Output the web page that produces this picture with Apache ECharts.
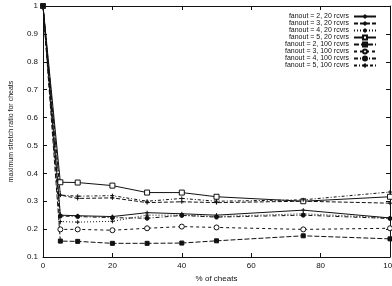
<!DOCTYPE html>
<html>
<head>
<meta charset="utf-8">
<script src="https://cdn.jsdelivr.net/npm/echarts@6/dist/echarts.min.js"></script>
<style>
  html, body { margin: 0; padding: 0; background: #fff; }
  #main { width: 392px; height: 286px; }
</style>
</head>
<body>
<div id="main"></div>
<script>
// % of cheats
const cheats = [0, 5, 10, 20, 30, 40, 50, 75, 100];

const names = [
  'fanout = 2, 20 rcvrs',
  'fanout = 3, 20 rcvrs',
  'fanout = 4, 20 rcvrs',
  'fanout = 5, 20 rcvrs',
  'fanout = 2, 100 rcvrs',
  'fanout = 3, 100 rcvrs',
  'fanout = 4, 100 rcvrs',
  'fanout = 5, 100 rcvrs'
];

const f2r20 = [1, 0.250, 0.248, 0.245, 0.259, 0.255, 0.250, 0.268, 0.240];
const f3r20 = [1, 0.322, 0.310, 0.312, 0.295, 0.298, 0.295, 0.300, 0.293];
const f4r20 = [1, 0.227, 0.225, 0.228, 0.250, 0.250, 0.245, 0.255, 0.240];
const f5r20 = [1, 0.368, 0.367, 0.356, 0.331, 0.331, 0.316, 0.300, 0.316];
const f2r100 = [1, 0.157, 0.156, 0.149, 0.149, 0.150, 0.158, 0.176, 0.165];
const f3r100 = [1, 0.199, 0.199, 0.196, 0.203, 0.209, 0.206, 0.199, 0.203];
const f4r100 = [1, 0.247, 0.245, 0.241, 0.239, 0.249, 0.243, 0.250, 0.238];
const f5r100 = [1, 0.322, 0.318, 0.320, 0.300, 0.310, 0.300, 0.305, 0.333];

const values = [f2r20, f3r20, f4r20, f5r20, f2r100, f3r100, f4r100, f5r100];

const ink = '#111';
const plus = 'path://M0,5L10,5M5,0L5,10';

// line dash, symbol, symbol size, hollow?
const looks = [
  { dash: 'solid', sym: plus, size: 4, hollow: true },
  { dash: [4, 2], sym: plus, size: 4, hollow: true },
  { dash: [1, 2], sym: plus, size: 4, hollow: true },
  { dash: 'solid', sym: 'rect', size: 5, hollow: true },
  { dash: [5, 2], sym: 'rect', size: 4, hollow: false },
  { dash: [3, 3], sym: 'circle', size: 5, hollow: true },
  { dash: [4, 2, 1, 2], sym: 'circle', size: 4, hollow: false },
  { dash: [3, 2, 1, 2], sym: plus, size: 4, hollow: true }
];

const font = 'Liberation Sans';

const series = names.map(function (name, i) {
  const lk = looks[i];
  return {
    name: name,
    type: 'line',
    data: cheats.map(function (x, j) { return [x, values[i][j]]; }),
    symbol: lk.sym,
    symbolSize: lk.size,
    showSymbol: true,
    animation: false,
    lineStyle: { color: ink, width: 1, type: lk.dash },
    itemStyle: {
      color: lk.hollow ? '#fff' : ink,
      borderColor: ink,
      borderWidth: 1
    }
  };
});

const tickStyle = { show: true, inside: true, length: 4, lineStyle: { color: ink, width: 1 } };
const lineAxis = { show: true, onZero: false, lineStyle: { color: ink, width: 1 } };

const chart = echarts.init(document.getElementById('main'), null, { renderer: 'canvas' });

chart.setOption({
  backgroundColor: '#fff',
  animation: false,
  grid: { left: 43, right: 2, top: 6, bottom: 29, outerBoundsMode: 'none', containLabel: false },
  legend: {
    orient: 'vertical',
    right: 10,
    top: 8,
    align: 'right',
    itemWidth: 22,
    itemHeight: 5,
    itemGap: 0,
    selectedMode: false,
    textStyle: { fontFamily: font, fontSize: 7, lineHeight: 6.7, color: ink },
    data: names
  },
  xAxis: [
    {
      type: 'value',
      min: 0, max: 100, interval: 20,
      name: '% of cheats',
      nameLocation: 'middle',
      nameGap: 15,
      nameTextStyle: { fontFamily: font, fontSize: 8, color: ink },
      axisLine: lineAxis,
      axisTick: tickStyle,
      splitLine: { show: false },
      axisLabel: { fontFamily: font, fontSize: 8, color: ink, margin: 5 }
    },
    {
      type: 'value',
      position: 'top',
      min: 0, max: 100, interval: 20,
      axisLine: lineAxis,
      axisTick: tickStyle,
      splitLine: { show: false },
      axisLabel: { show: false }
    }
  ],
  yAxis: [
    {
      type: 'value',
      min: 0.1, max: 1, interval: 0.1,
      name: 'maximum stretch ratio for cheats',
      nameLocation: 'middle',
      nameGap: 28,
      nameTextStyle: { fontFamily: font, fontSize: 7, color: ink },
      axisLine: lineAxis,
      axisTick: tickStyle,
      splitLine: { show: false },
      axisLabel: {
        fontFamily: font, fontSize: 8, color: ink, margin: 5,
        formatter: function (v) { return +v.toFixed(1) + ''; }
      }
    },
    {
      type: 'value',
      position: 'right',
      min: 0.1, max: 1, interval: 0.1,
      axisLine: lineAxis,
      axisTick: tickStyle,
      splitLine: { show: false },
      axisLabel: { show: false }
    }
  ],
  series: series
});
</script>
</body>
</html>
